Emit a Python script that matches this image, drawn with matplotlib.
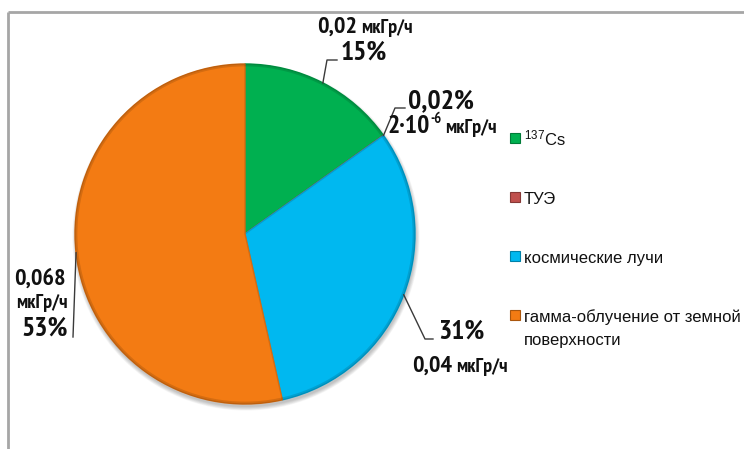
import matplotlib
matplotlib.use("Agg")
import matplotlib.pyplot as plt
from matplotlib import font_manager as fm
from matplotlib.patches import Circle
from matplotlib.colors import to_rgb
import numpy as np

# ---- data ----
categories = ["$^{137}$Cs", "ТУЭ", "космические лучи",
              "гамма-облучение от земной\nповерхности"]
shares = [15, 0.02, 31, 53]                      # % of total dose rate
share_labels = ["15%", "0,02%", "31%", "53%"]
dose_values = ["0,02", "2·10", "0,04", "0,068"]  # мкГр/ч
dose_unit = "мкГр/ч"
colors = ["#00B050", "#C0504D", "#00B8F0", "#F37B13"]

W, H = 744, 449

# ---- fonts: a condensed bold face for the data labels, if installed ----
STRETCH = {"ultra-condensed": 100, "extra-condensed": 200, "condensed": 300,
           "semi-condensed": 400, "normal": 500}
WEIGHT = {"bold": 700, "semibold": 600, "demibold": 600, "heavy": 800,
          "extra bold": 800, "black": 900, "normal": 400, "regular": 400}


def num(v, table):
    if isinstance(v, (int, float)):
        return v
    return table.get(str(v).lower(), 500)


cands = []
for f in fm.fontManager.ttflist:
    st = num(f.stretch, STRETCH)
    wt = num(f.weight, WEIGHT)
    named = ("Narrow" in f.name) or ("Condensed" in f.name)
    if (st <= 400 or named) and 650 <= wt <= 750 and "Mono" not in f.name \
            and f.style == "normal" and "CJK" not in f.name:
        cands.append((0 if "Narrow" in f.name else 1,
                      abs(min(st, 300 if named else st) - 300), f.fname))
cands.sort()
LBL_FILE = cands[0][2] if cands else None
REG = "Liberation Sans"
k_lbl = 1.0 if LBL_FILE else 0.8


def lblfont(size):
    if LBL_FILE:
        return fm.FontProperties(fname=LBL_FILE, size=size)
    return fm.FontProperties(family=REG, weight="bold", size=size * k_lbl)


plt.rcParams["mathtext.fontset"] = "custom"
plt.rcParams["mathtext.rm"] = REG
plt.rcParams["mathtext.it"] = REG + ":italic"
plt.rcParams["mathtext.bf"] = REG + ":bold"

fig = plt.figure(figsize=(W / 100, H / 100), dpi=100)
ax = fig.add_axes([0, 0, 1, 1])


def Y(y):
    """top-down pixel row -> axes data y"""
    return H - y


def darker(c, f=0.82):
    r, g, b = to_rgb(c)
    return (r * f, g * f, b * f)


cx, cy, R = 245, 234, 170

# soft drop shadow under the pie
for k in range(7):
    ax.add_patch(Circle((cx + 1, Y(cy + 3)), R + 0.6 * k, color="k",
                        alpha=0.035, zorder=0, lw=0))

wedges, _ = ax.pie(shares, colors=colors, startangle=90,
                   counterclock=False, center=(cx, Y(cy)), radius=R,
                   wedgeprops=dict(linewidth=1.0))
for w, c in zip(wedges, colors):
    w.set_edgecolor(darker(c, 0.88))
    w.set_zorder(2)
ax.add_patch(Circle((cx, Y(cy)), R - 1, fill=False, lw=2.0,
                    edgecolor=(0, 0, 0, 0.12), zorder=3))

ax.set_xlim(0, W)
ax.set_ylim(0, H)
ax.set_aspect("equal")
ax.axis("off")

# outer frame (top and left edges)
ax.plot([8, W], [Y(12), Y(12)], color="#A6A6A6", lw=2, zorder=1,
        solid_capstyle="butt")
ax.plot([8, 8], [Y(12), 0], color="#A6A6A6", lw=2, zorder=1,
        solid_capstyle="butt")


def rim_point(w):
    a = np.deg2rad((w.theta1 + w.theta2) / 2)
    return cx + R * np.cos(a), Y(cy) + R * np.sin(a)


def leader(p0, pts):
    xs = [p0[0]] + [p[0] for p in pts]
    ys = [p0[1]] + [Y(p[1]) for p in pts]
    ax.plot(xs, ys, color="#3A3A3A", lw=1.0, zorder=4)


def txt(x, y, s, size, ha="left"):
    return ax.text(x, Y(y), s, fontproperties=lblfont(size), ha=ha,
                   va="baseline", color="#111111", zorder=5)


def after(prev, s, size, y, gap=4, va="baseline"):
    """place text right after another text; y is its row (pixels)"""
    return ax.annotate(s, xy=(1, Y(y)), xycoords=(prev, "data"),
                       xytext=(gap, 0), textcoords="offset pixels",
                       fontproperties=lblfont(size), ha="left", va=va,
                       color="#111111", zorder=5, annotation_clip=False)


UNIT = 14.5

# leader lines
leader(rim_point(wedges[0]), [(327, 60), (337, 60)])
leader(rim_point(wedges[1]), [(395, 108), (405, 108)])
leader(rim_point(wedges[2]), [(425, 339), (433, 339)])
leader(rim_point(wedges[3]), [(73, 337)])

# 137Cs
t = txt(317, 33, dose_values[0], 17.5)
after(t, dose_unit, UNIT, 33)
txt(364, 60, share_labels[0], 20, ha="center")
# ТУЭ
txt(408, 108, share_labels[1], 20)
t = txt(387, 133, dose_values[1], 18.5)
s = after(t, "-6", 10.5, 123, gap=1)
after(s, dose_unit, UNIT, 133, gap=4)
# космические лучи
txt(438, 339, share_labels[2], 20)
t = txt(412, 372, dose_values[2], 17.5)
after(t, dose_unit, UNIT, 372)
# гамма-облучение
txt(66, 285, dose_values[3], 17.5, ha="right")
txt(68, 308, dose_unit, UNIT, ha="right")
txt(68, 336, share_labels[3], 20, ha="right")

# legend
leg_y0, leg_dy = 138, 59
for i, (lab, c) in enumerate(zip(categories, colors)):
    yc = leg_y0 + i * leg_dy
    ax.add_patch(plt.Rectangle((510, Y(yc + 5)), 10, 10, facecolor=c,
                               edgecolor=darker(c, 0.7), lw=0.8, zorder=5))
    for j, line in enumerate(lab.split("\n")):
        ax.text(524, Y(yc + 7 + j * 23), line, fontsize=12.0, family=REG,
                ha="left", va="baseline", color="#111111", zorder=5)

fig.savefig("out.png", dpi=100)
